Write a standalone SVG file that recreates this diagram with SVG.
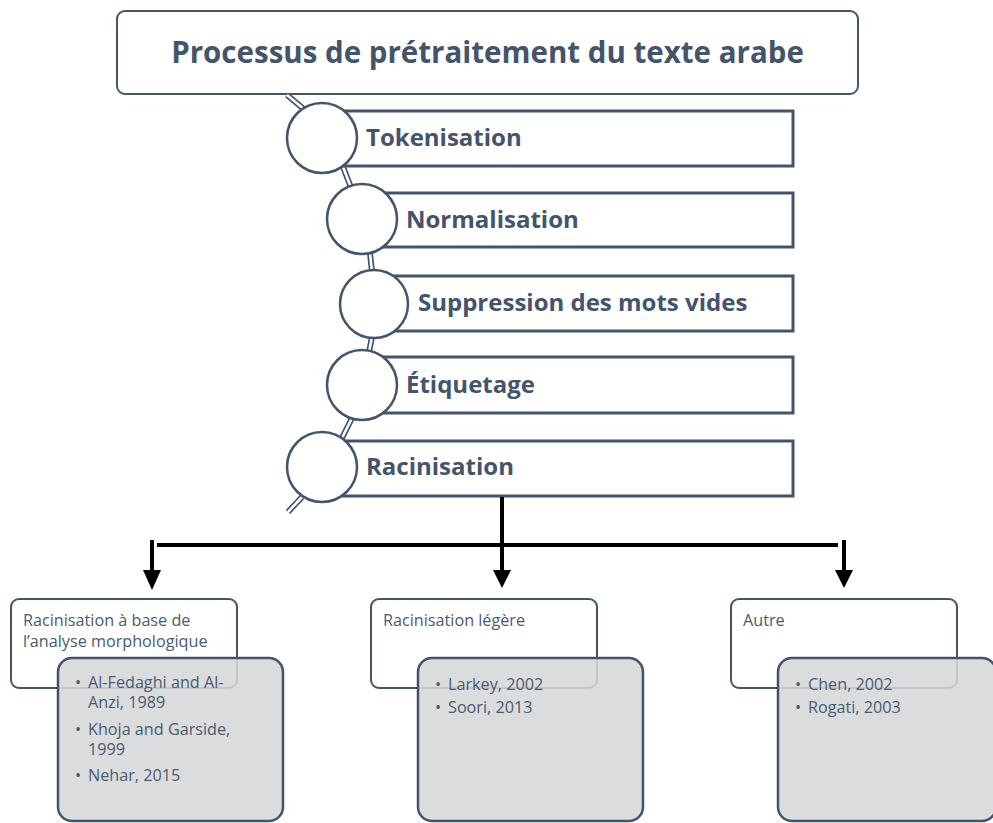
<svg xmlns="http://www.w3.org/2000/svg" width="993" height="823" viewBox="0 0 993 823">
  <defs>
    <style>
      .frame { fill: #ffffff; stroke: #44546a; stroke-width: 2; }
      .step { fill: #ffffff; stroke: #44546a; stroke-width: 3; }
      .bead { fill: #ffffff; stroke: #44546a; stroke-width: 2.5; }
      .pipe-out { fill: none; stroke: #44546a; stroke-width: 6; stroke-linecap: butt; }
      .pipe-in { fill: none; stroke: #ffffff; stroke-width: 2.6; stroke-linecap: butt; }
      .title { font-family: "Open Sans", "Liberation Sans", sans-serif; font-weight: 700; font-size: 29.5px; fill: #44546a; }
      .label { font-family: "Open Sans", "Liberation Sans", sans-serif; font-weight: 700; font-size: 24px; fill: #44546a; }
      .card { fill: #ffffff; stroke: #44546a; stroke-width: 2; }
      .refs { fill: #d5d7da; fill-opacity: 0.88; stroke: #44546a; stroke-width: 2.5; }
      .txt { font-family: "Open Sans", "Liberation Sans", sans-serif; font-size: 16.2px; fill: #4a5b6e; }
      .flow { fill: none; stroke: #000000; stroke-width: 4; }
      .tip { fill: #000000; }
    </style>
  </defs>

  <!-- title -->
  <g id="title">
    <rect class="frame" x="117" y="11" width="741" height="83" rx="8"/>
    <text class="title" x="487.5" y="63" text-anchor="middle">Processus de prétraitement du texte arabe</text>
  </g>

  <!-- pipe linking the beads -->
  <g id="spine">
    <path class="pipe-out" d="M287,95 L305,110 M343,167 L352,190 M370,253 L372,272 M372,337 L369,352 M352,418 L342,438 M302,497 L288,512"/>
    <path class="pipe-in" d="M287,95 L305,110 M343,167 L352,190 M370,253 L372,272 M372,337 L369,352 M352,418 L342,438 M302,497 L288,512"/>
  </g>

  <g id="step-tokenisation">
    <rect class="step" x="322" y="111" width="471" height="55"/>
    <circle class="bead" cx="322" cy="138" r="35"/>
    <text class="label" x="366" y="146">Tokenisation</text>
  </g>
  <g id="step-normalisation">
    <rect class="step" x="362" y="193" width="431" height="54"/>
    <circle class="bead" cx="362" cy="219" r="35"/>
    <text class="label" x="406" y="228">Normalisation</text>
  </g>
  <g id="step-stopwords">
    <rect class="step" x="374" y="276" width="419" height="55"/>
    <circle class="bead" cx="374" cy="304" r="34"/>
    <text class="label" x="418" y="311">Suppression des mots vides</text>
  </g>
  <g id="step-etiquetage">
    <rect class="step" x="362" y="357" width="431" height="56"/>
    <circle class="bead" cx="362" cy="385" r="35"/>
    <text class="label" x="406" y="393">Étiquetage</text>
  </g>
  <g id="step-racinisation">
    <rect class="step" x="322" y="441" width="471" height="55"/>
    <circle class="bead" cx="322" cy="467" r="35"/>
    <text class="label" x="366" y="475">Racinisation</text>
  </g>

  <!-- branching arrows -->
  <g id="connectors">
    <path class="flow" d="M502,497 L502,572 M157,545 L838,545 M152,540 L152,572 M844,540 L844,572"/>
    <polygon class="tip" points="493,570 511,570 502,588"/>
    <polygon class="tip" points="143,570 161,570 152,590"/>
    <polygon class="tip" points="835,570 853,570 844,588"/>
  </g>

  <g id="branch-morpho">
    <rect class="card" x="11" y="599" width="226" height="89" rx="8"/>
    <text class="txt" x="23" y="626">Racinisation à base de</text>
    <text class="txt" x="23" y="647">l’analyse morphologique</text>
    <rect class="refs" x="58" y="658" width="225" height="163" rx="14"/>
    <text class="txt" x="75" y="688">•</text><text class="txt" x="88" y="688">Al-Fedaghi and Al-</text>
    <text class="txt" x="88" y="708">Anzi, 1989</text>
    <text class="txt" x="75" y="735">•</text><text class="txt" x="88" y="735">Khoja and Garside,</text>
    <text class="txt" x="88" y="755">1999</text>
    <text class="txt" x="75" y="781">•</text><text class="txt" x="88" y="781">Nehar, 2015</text>
  </g>

  <g id="branch-legere">
    <rect class="card" x="371" y="599" width="226" height="89" rx="8"/>
    <text class="txt" x="383" y="626">Racinisation légère</text>
    <rect class="refs" x="418" y="658" width="225" height="163" rx="14"/>
    <text class="txt" x="435" y="690">•</text><text class="txt" x="448" y="690">Larkey, 2002</text>
    <text class="txt" x="435" y="713">•</text><text class="txt" x="448" y="713">Soori, 2013</text>
  </g>

  <g id="branch-autre">
    <rect class="card" x="731" y="599" width="226" height="89" rx="8"/>
    <text class="txt" x="743" y="626">Autre</text>
    <rect class="refs" x="778" y="658" width="218" height="163" rx="14"/>
    <text class="txt" x="795" y="690">•</text><text class="txt" x="808" y="690">Chen, 2002</text>
    <text class="txt" x="795" y="713">•</text><text class="txt" x="808" y="713">Rogati, 2003</text>
  </g>
</svg>
